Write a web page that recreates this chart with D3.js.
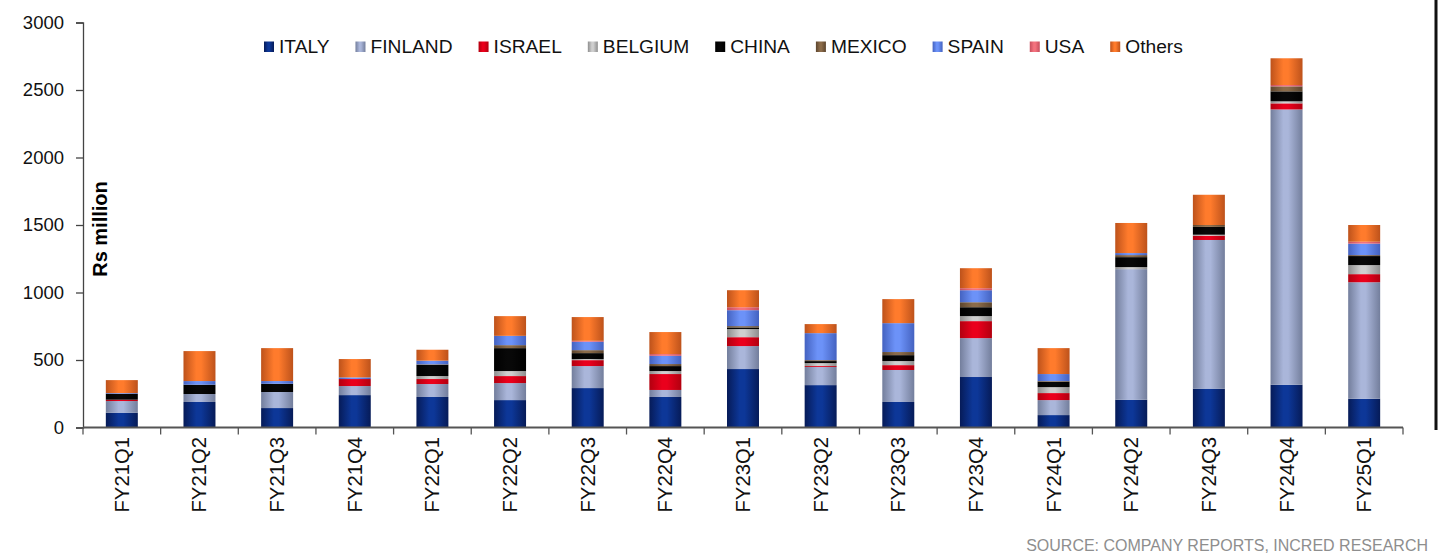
<!DOCTYPE html>
<html>
<head>
<meta charset="utf-8">
<script src="https://cdn.jsdelivr.net/npm/d3@7"></script>
<style>
  html, body { margin: 0; padding: 0; background: #fff; }
  svg { display: block; font-family: "Liberation Sans", Arial, sans-serif; }
</style>
</head>
<body>
<svg id="chart" width="1443" height="555"></svg>
<script>
// Export revenue by destination country, Rs million
const quarters = ["FY21Q1","FY21Q2","FY21Q3","FY21Q4","FY22Q1","FY22Q2","FY22Q3","FY22Q4",
                  "FY23Q1","FY23Q2","FY23Q3","FY23Q4","FY24Q1","FY24Q2","FY24Q3","FY24Q4","FY25Q1"];
const countries = ["ITALY","FINLAND","ISRAEL","BELGIUM","CHINA","MEXICO","SPAIN","USA","Others"];

const italy   = [110,189,144,240,226,203,292,226,433,314,189,374, 92, 206, 288, 317,213];
const finland = [ 86, 59,119, 67, 96,126,163, 52,170,134,237,288,111, 967,1101,2039,863];
const israel  = [ 10,  0,  0, 52, 37, 52, 44,118, 66,  7, 36,126, 52,   0,  32,  45, 60];
const belgium = [  0,  0,  0,  0, 22, 37,  8, 22, 60, 22, 30, 37, 44,  15,   7,  15, 67];
const china   = [ 44, 69, 61,  0, 84,170, 44, 37, 12, 15, 44, 66, 40,  74,  58,  74, 67];
const mexico  = [  0,  0,  0,  0,  3, 22, 22, 15, 10,  7, 23, 37,  5,  15,  14,  37,  7];
const spain   = [  5, 27, 20, 12, 27, 69, 62, 61,118,200,214, 89, 52,  15,   0,   0, 85];
const usa     = [  0,  0,  0,  0,  0,  0,  7, 13, 22,  0,  0, 15,  0,   0,   0,  10, 14];
const others  = [ 96,222,244,136, 81,146,176,163,126, 67,178,148,192, 223, 224, 198,124];

const yTicks = [0, 500, 1000, 1500, 2000, 2500, 3000];

const seriesValues = [italy, finland, israel, belgium, china, mexico, spain, usa, others];

// Build a row-per-quarter table for d3.stack
const table = quarters.map((q, i) => {
  const row = { quarter: q };
  countries.forEach((c, k) => { row[c] = seriesValues[k][i]; });
  return row;
});

// Cylinder-style shading: [edge, centre] per country
const shades = {
  "ITALY":   ["#061b58", "#0d3798"],
  "FINLAND": ["#737e9c", "#aab6da"],
  "ISRAEL":  ["#b2000f", "#ea001c"],
  "BELGIUM": ["#8e8e8e", "#cfcfcf"],
  "CHINA":   ["#000000", "#080808"],
  "MEXICO":  ["#5c452e", "#8c6c4a"],
  "SPAIN":   ["#4462c0", "#6c92f8"],
  "USA":     ["#c64e5e", "#f4727e"],
  "Others":  ["#bd521b", "#ff7b2c"]
};

const svg = d3.select("#chart");
svg.append("rect").attr("width", 1443).attr("height", 555).attr("fill", "#fff");

const defs = svg.append("defs");
countries.forEach((c, k) => {
  const [edge, mid] = shades[c];
  const g = defs.append("linearGradient")
    .attr("id", "grad" + k)
    .attr("x1", "0%").attr("x2", "100%").attr("y1", "0%").attr("y2", "0%");
  g.append("stop").attr("offset", "0%").attr("stop-color", edge);
  g.append("stop").attr("offset", "40%").attr("stop-color", mid);
  g.append("stop").attr("offset", "55%").attr("stop-color", mid);
  g.append("stop").attr("offset", "100%").attr("stop-color", edge);
});

const x = d3.scaleBand()
  .domain(quarters)
  .range([83, 1403])
  .paddingInner(0.588)
  .paddingOuter(0.294);

const y = d3.scaleLinear()
  .domain([0, 3000])
  .range([427.5, 22.5]);

const stack = d3.stack().keys(countries);
const layers = stack(table);

// Stacked bars
svg.append("g")
  .selectAll("g")
  .data(layers)
  .join("g")
  .attr("fill", (d, k) => `url(#grad${k})`)
  .selectAll("rect")
  .data(d => d)
  .join("rect")
  .attr("x", d => x(d.data.quarter))
  .attr("width", x.bandwidth())
  .attr("y", d => y(d[1]))
  .attr("height", d => Math.max(0, y(d[0]) - y(d[1])));

// Y axis
const yAxis = svg.append("g")
  .attr("transform", "translate(83,0)")
  .call(d3.axisLeft(y).tickValues(yTicks).tickSize(7).tickPadding(12).tickFormat(d3.format("d")));
yAxis.select(".domain").attr("stroke", "#444").attr("stroke-width", 1.3);
yAxis.selectAll(".tick line").attr("stroke", "#444").attr("stroke-width", 1.3);
yAxis.selectAll(".tick text")
  .attr("fill", "#111")
  .style("font-size", "18.5px")
  .style("font-family", "'Liberation Sans', Arial, sans-serif");

// X axis: ticks sit on band boundaries
const xAxisG = svg.append("g").attr("transform", `translate(0,${y(0)})`);
xAxisG.append("line")
  .attr("x1", 83).attr("x2", 1403)
  .attr("stroke", "#555").attr("stroke-width", 2);
const boundaries = d3.range(quarters.length + 1).map(i => x.range()[0] + i * x.step());
xAxisG.selectAll("line.tk")
  .data(boundaries)
  .join("line")
  .attr("class", "tk")
  .attr("x1", d => d).attr("x2", d => d)
  .attr("y1", 0).attr("y2", 7)
  .attr("stroke", "#555").attr("stroke-width", 1.3);

svg.append("g")
  .selectAll("text")
  .data(quarters)
  .join("text")
  .attr("transform", q => `translate(${x(q) + x.bandwidth() / 2 + 7},437) rotate(-90)`)
  .attr("text-anchor", "end")
  .style("font-size", "20.3px")
  .attr("fill", "#111")
  .text(q => q);

// Axis title
svg.append("text")
  .attr("transform", "translate(107,229) rotate(-90)")
  .attr("text-anchor", "middle")
  .style("font-size", "20px")
  .style("font-weight", "bold")
  .attr("fill", "#000")
  .text("Rs million");

// Legend, laid out left to right from measured label widths
const legend = svg.append("g");
let lx = 264;
countries.forEach((c, k) => {
  legend.append("rect")
    .attr("x", lx).attr("y", 41.5)
    .attr("width", 10).attr("height", 10.5)
    .attr("fill", `url(#grad${k})`);
  const t = legend.append("text")
    .attr("x", lx + 15).attr("y", 52.8)
    .style("font-size", "19.2px")
    .attr("fill", "#111")
    .text(c);
  lx += 15 + t.node().getComputedTextLength() + 26;
});

// Frame edge on the right
svg.append("line")
  .attr("x1", 1436).attr("x2", 1436)
  .attr("y1", 0).attr("y2", 430)
  .attr("stroke", "#111").attr("stroke-width", 3);

// Source note
svg.append("text")
  .attr("x", 1428).attr("y", 551)
  .attr("text-anchor", "end")
  .style("font-size", "16px")
  .attr("fill", "#8e8e8e")
  .text("SOURCE: COMPANY REPORTS, INCRED RESEARCH");
</script>
</body>
</html>
